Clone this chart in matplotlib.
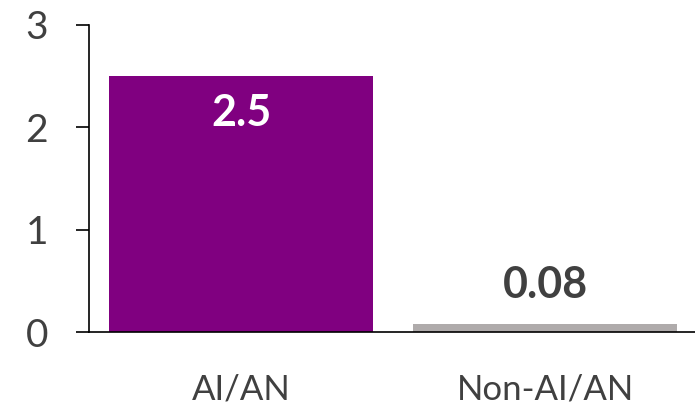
import matplotlib.pyplot as plt

categories = ["AI/AN", "Non-AI/AN"]
values = [2.5, 0.08]
value_labels = ["2.5", "0.08"]
bar_colors = ["#800080", "#AFABAB"]
label_colors = ["white", "#404040"]

plt.rcParams['font.family'] = ['Lato', 'DejaVu Sans']
text_color = "#404040"

fig = plt.figure(figsize=(6.95, 4.05), dpi=100)
ax = fig.add_axes([0.128, 0.180, 0.872, 0.759])

x = list(range(len(categories)))
bars = ax.bar(x, values, width=0.868, color=bar_colors)

ax.set_xlim(-0.5, 1.493)
ax.set_ylim(0, 3)
ax.set_yticks([0, 1, 2, 3])
ax.set_xticks(x)
ax.set_xticklabels(categories)

for s in ["top", "right"]:
    ax.spines[s].set_visible(False)
for s in ["left", "bottom"]:
    ax.spines[s].set_linewidth(1.2)
    ax.spines[s].set_color("black")

ax.tick_params(axis="y", length=9.5, width=1.2, pad=20, labelsize=28, labelcolor=text_color)
ax.tick_params(axis="x", length=0, pad=30, labelsize=25, labelcolor=text_color)

# value labels: inside the tall bar, above the short one
for xi, v, lab, c in zip(x, values, value_labels, label_colors):
    off = -27 if v > 1 else 28
    ax.annotate(lab, (xi, v), xytext=(0, off), textcoords="offset points",
                ha="center", va="center", fontsize=31, fontweight="bold", color=c)

fig.savefig("out.png", dpi=100)
